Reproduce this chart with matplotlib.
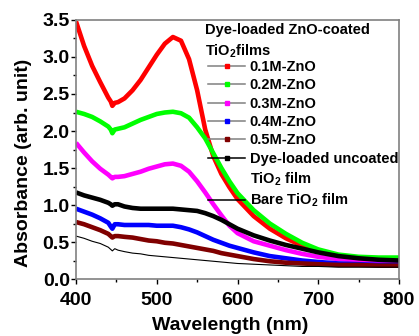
import matplotlib
matplotlib.use("Agg")
import matplotlib.pyplot as plt
from matplotlib.lines import Line2D
from matplotlib.ticker import MultipleLocator

plt.rcParams['font.family'] = ['Liberation Sans', 'DejaVu Sans']
plt.rcParams['font.weight'] = 'bold'
plt.rcParams['mathtext.fontset'] = 'custom'
plt.rcParams['mathtext.rm'] = 'Liberation Sans:bold'
plt.rcParams['mathtext.bf'] = 'Liberation Sans:bold'
plt.rcParams['mathtext.default'] = 'bf'

# wavelength grid (nm)
wl = [400, 410, 420, 430, 440, 443, 445, 448, 452, 460, 470, 480, 490, 500, 510, 520,
      530, 540, 550, 560, 570, 580, 590, 600, 620, 640, 660, 680, 700, 725, 750, 775, 800]

# absorbance
zno_01 = [3.48, 3.15, 2.88, 2.66, 2.45, 2.40, 2.34, 2.38, 2.39, 2.44, 2.55, 2.69, 2.86, 3.03, 3.18, 3.27,
          3.22, 2.97, 2.55, 2.02, 1.66, 1.42, 1.24, 1.08, 0.85, 0.68, 0.55, 0.45, 0.38, 0.31, 0.27, 0.25, 0.23]
zno_02 = [2.26, 2.23, 2.19, 2.13, 2.06, 2.02, 1.97, 2.02, 2.03, 2.05, 2.10, 2.15, 2.19, 2.23, 2.25, 2.26,
          2.24, 2.18, 2.05, 1.90, 1.70, 1.50, 1.32, 1.16, 0.93, 0.75, 0.61, 0.49, 0.40, 0.33, 0.30, 0.29, 0.29]
zno_03 = [1.84, 1.71, 1.59, 1.49, 1.41, 1.38, 1.36, 1.38, 1.38, 1.39, 1.42, 1.45, 1.49, 1.52, 1.55, 1.56,
          1.53, 1.45, 1.32, 1.17, 1.01, 0.86, 0.72, 0.62, 0.51, 0.45, 0.39, 0.34, 0.30, 0.27, 0.25, 0.24, 0.23]
zno_04 = [0.95, 0.91, 0.87, 0.82, 0.76, 0.71, 0.68, 0.74, 0.74, 0.73, 0.73, 0.73, 0.73, 0.72, 0.72, 0.72,
          0.70, 0.67, 0.63, 0.58, 0.53, 0.49, 0.45, 0.42, 0.36, 0.31, 0.28, 0.25, 0.23, 0.21, 0.20, 0.19, 0.19]
zno_05 = [0.77, 0.74, 0.70, 0.66, 0.61, 0.58, 0.56, 0.58, 0.58, 0.57, 0.56, 0.54, 0.52, 0.51, 0.49, 0.48,
          0.46, 0.44, 0.42, 0.40, 0.38, 0.35, 0.33, 0.31, 0.27, 0.24, 0.22, 0.21, 0.20, 0.19, 0.19, 0.18, 0.18]
uncoated = [1.17, 1.13, 1.10, 1.07, 1.03, 1.01, 0.99, 1.01, 1.01, 0.98, 0.96, 0.95, 0.95, 0.95, 0.95, 0.95,
            0.94, 0.93, 0.92, 0.89, 0.85, 0.80, 0.74, 0.68, 0.59, 0.52, 0.46, 0.41, 0.36, 0.31, 0.28, 0.26, 0.25]
bare = [0.58, 0.55, 0.51, 0.48, 0.43, 0.40, 0.38, 0.41, 0.39, 0.37, 0.35, 0.34, 0.32, 0.31, 0.30, 0.29,
        0.28, 0.27, 0.26, 0.25, 0.24, 0.23, 0.22, 0.21, 0.20, 0.19, 0.18, 0.17, 0.17, 0.16, 0.16, 0.16, 0.16]

labels = ['0.1M-ZnO', '0.2M-ZnO', '0.3M-ZnO', '0.4M-ZnO', '0.5M-ZnO']
colors = ['#ff0000', '#00ff00', '#ff00ff', '#0000ff', '#800000']

fig = plt.figure(figsize=(4.19, 3.36), dpi=100)
ax = fig.add_axes([0.1814, 0.1696, 0.7709, 0.7709])

for ys, c in zip([zno_01, zno_02, zno_03, zno_04, zno_05], colors):
    ax.plot(wl, ys, color=c, lw=3.3, solid_capstyle='butt')
ax.plot(wl, uncoated, color='black', lw=3.3, solid_capstyle='butt')
ax.plot(wl, bare, color='black', lw=0.8)

ax.set_xlim(400, 800)
ax.set_ylim(0, 3.5)
ax.xaxis.set_major_locator(MultipleLocator(100))
ax.xaxis.set_minor_locator(MultipleLocator(50))
ax.yaxis.set_major_locator(MultipleLocator(0.5))
ax.yaxis.set_minor_locator(MultipleLocator(0.25))
ax.yaxis.set_major_formatter(plt.FormatStrFormatter('%.1f'))
ax.tick_params(which='major', direction='out', length=3.5, width=1, labelsize=14)
ax.tick_params(axis='x', which='major', pad=5.5)
ax.tick_params(axis='y', which='major', pad=1)
ax.tick_params(which='minor', direction='out', length=2.2, width=1)
for s in ax.spines.values():
    s.set_color('#808080')
    s.set_linewidth(1.2)

ax.set_xlabel('Wavelength (nm)', fontsize=14, fontweight='bold')
ax.set_ylabel('Absorbance (arb. unit)', fontsize=14, fontweight='bold')
ax.xaxis.set_label_coords(0.477, -0.147)
ax.yaxis.set_label_coords(-0.135, 0.45)

# legend heading as plain text, entries below it
ax.text(0.40, 0.99, 'Dye-loaded ZnO-coated\nTiO$_2$films', transform=ax.transAxes,
        ha='left', va='top', fontsize=10.5, fontweight='bold', linespacing=1.5)

handles = [Line2D([], [], color='#808080', lw=1.1, marker='s', ms=3.5,
                  markerfacecolor=c, markeredgecolor=c) for c in colors]
handles.append(Line2D([], [], color='black', lw=1.1, marker='s', ms=3.5))
handles.append(Line2D([], [], color='none', lw=0))
handles.append(Line2D([], [], color='black', lw=1.1))
leg_labels = labels + ['Dye-loaded uncoated', 'TiO$_2$ film', 'Bare TiO$_2$ film']
leg = ax.legend(handles, leg_labels, loc='upper left', bbox_to_anchor=(0.40, 0.857),
                frameon=False, fontsize=10.5, borderpad=0.2, borderaxespad=0,
                handlelength=2.55, handletextpad=0.3, labelspacing=0.3)

fig.savefig('out.png', dpi=100)
